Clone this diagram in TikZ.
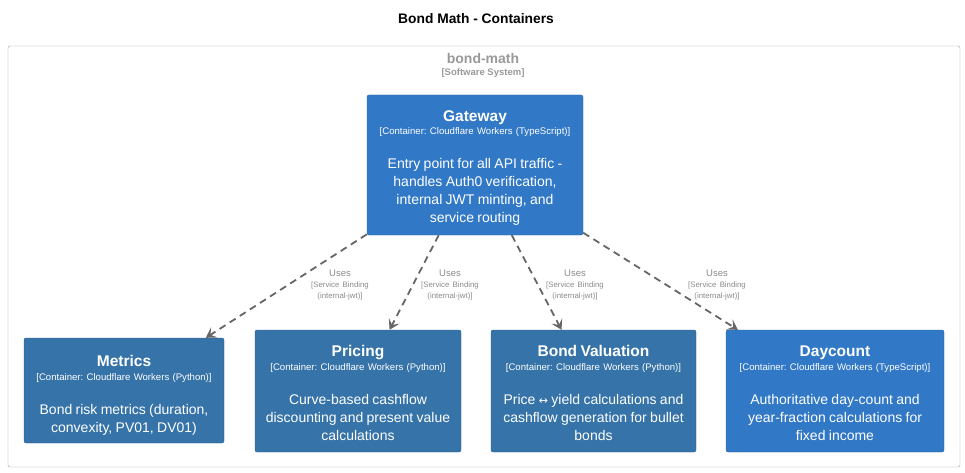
\documentclass[tikz,border=0pt]{standalone}
\usepackage{fontspec}
\setmainfont{Liberation Sans}
\usetikzlibrary{arrows.meta,positioning}
\definecolor{tsblue}{HTML}{3178C6}
\definecolor{pyblue}{HTML}{3673A8}
\definecolor{lblgray}{HTML}{8A8A8A}
\definecolor{sysgray}{HTML}{999999}
\definecolor{arrgray}{HTML}{666666}
\tikzstyle{bound}=[draw=lblgray!80, rounded corners=2pt, thin, inner sep=0]
\tikzstyle{cont}=[rounded corners=2pt, inner sep=0, text=white, align=center]
\tikzstyle{tscont}=[cont, fill=tsblue, draw=tsblue!85!black]
\tikzstyle{pycont}=[cont, fill=pyblue, draw=pyblue!85!black]
\tikzstyle{lbl}=[text=lblgray, align=center, inner sep=0, text width=80pt]
\tikzstyle{uses}=[draw=arrgray, line width=1.8pt, dash pattern=on 7pt off 5pt, -{Stealth[length=10pt,width=12pt,inset=4.5pt]}]
% optional arg: strut height of the title line (moves text down)
\newcommand{\cbox}[4][15.3]{\centering\frenchspacing
{\fontsize{15.5}{17}\selectfont\bfseries\rule{0pt}{#1pt}#2\par}\vspace{2.6pt}%
{\fontsize{9.6}{11}\selectfont #3\par}\vspace{16pt}%
{\fontsize{14}{18}\selectfont #4\par}}
\newcommand{\rel}{\centering
{\fontsize{9.5}{10}\selectfont Uses\par}\vspace{0.5pt}%
{\fontsize{7.8}{11}\selectfont [Service Binding\\(internal-jwt)]\par}}

\begin{document}
\begin{tikzpicture}[x=1pt,y=-1pt]
\useasboundingbox (0,0) rectangle (965,473);

\node (title) at (476,19) {\fontsize{13.8}{16}\selectfont\bfseries Bond Math - Containers};
\node (sysb) [bound, minimum width=952, minimum height=421] at (484,256.5) {};
\node (sys) [text=sysgray] at (483,58) {\fontsize{14}{16}\selectfont\bfseries bond-math};
\node (systype) [text=sysgray] at (483,73) {\fontsize{9.5}{11}\selectfont\bfseries [Software System]};

\node (gw) [tscont, minimum width=216, minimum height=140, text width=212] at (475,165)
  {\cbox[17.3]{Gateway}{[Container: Cloudflare Workers (TypeScript)]}{Entry point for all API traffic -\\handles Auth0 verification,\\internal JWT minting, and\\service routing}};
\node (met) [pycont, minimum width=200, minimum height=105, text width=196] at (124,390.5)
  {\cbox[20.3]{Metrics}{[Container: Cloudflare Workers (Python)]}{Bond risk metrics (duration,\\convexity, PV01, DV01)}};
\node (pri) [pycont, minimum width=206, minimum height=122, text width=202] at (358,391)
  {\cbox{Pricing}{[Container: Cloudflare Workers (Python)]}{Curve-based cashflow\\discounting and present value\\calculations}};
\node (bv) [pycont, minimum width=205, minimum height=122, text width=201] at (593.5,391)
  {\cbox{Bond Valuation}{[Container: Cloudflare Workers (Python)]}{Price \fontspec{DejaVu Sans}\fontsize{11}{18}\selectfont↔\fontspec{Liberation Sans}\fontsize{14}{18}\selectfont{} yield calculations and\\cashflow generation for bullet\\bonds}};
\node (dc) [tscont, minimum width=218, minimum height=122, text width=214] at (835,391)
  {\cbox{Daycount}{[Container: Cloudflare Workers (TypeScript)]}{Authoritative day-count and\\year-fraction calculations for\\fixed income}};

% relations
\draw[uses] (gw) -- (met);
\draw[uses] (gw) -- (pri);
\draw[uses] (gw) -- (bv);
\draw[uses] (gw) -- (dc);

\node (l1) [lbl] at (340,285) {\rel};
\node (l2) [lbl] at (450,285) {\rel};
\node (l3) [lbl] at (575,285) {\rel};
\node (l4) [lbl] at (717,285) {\rel};

\end{tikzpicture}
\end{document}
